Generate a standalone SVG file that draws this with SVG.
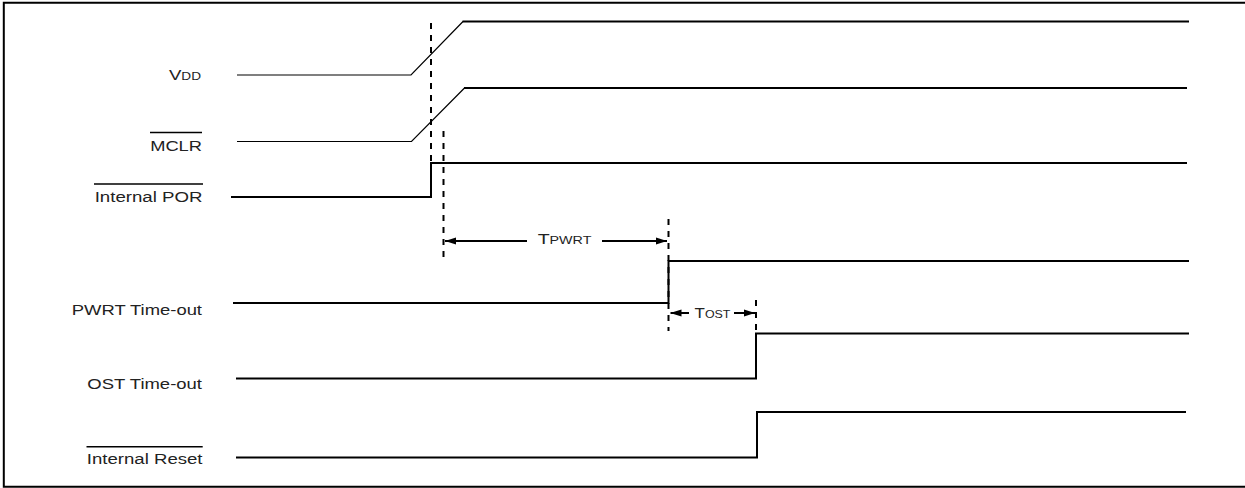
<svg xmlns="http://www.w3.org/2000/svg" width="1245" height="488" viewBox="0 0 1245 488">
<style>
.lbl{font-family:"Liberation Sans",Arial,sans-serif;font-size:15px;fill:#222;}
.sm{font-size:11px;}
.sig{fill:none;stroke:#000;stroke-width:2;}
.thin{fill:none;stroke:#000;stroke-width:1.2;}
.ovl{stroke:#000;stroke-width:1.6;}
.dash{fill:none;stroke:#000;stroke-width:2;stroke-dasharray:6,6;}
.arr{fill:none;stroke:#000;stroke-width:2;marker-end:url(#ah);}
</style>
<defs>
<marker id="ah" markerUnits="userSpaceOnUse" markerWidth="11" markerHeight="8" refX="11" refY="4" orient="auto">
<path d="M0,0.5 L11,4 L0,7.5 Z" fill="#000"/>
</marker>
</defs>
<rect width="1245" height="488" fill="#fff"/>
<path d="M1247,2.8 H3.8 V486.8 H1247" fill="none" stroke="#000" stroke-width="2"/>

<g id="vdd">
<text class="lbl" text-anchor="end" transform="translate(201,79.5) scale(1.24,1)">V<tspan class="sm">DD</tspan></text>
<path class="thin" d="M237,75 H411 L463,21.5"/>
<path class="sig" d="M462.5,21.5 H1189"/>
</g>

<g id="mclr">
<text class="lbl" text-anchor="end" transform="translate(202,150.5) scale(1.22,1)">MCLR</text>
<line class="ovl" x1="150" y1="132.5" x2="202" y2="132.5"/>
<path class="thin" d="M237,141.5 H411.5 L464.5,88"/>
<path class="sig" d="M464,88 H1187"/>
</g>

<g id="internal-por">
<text class="lbl" text-anchor="end" transform="translate(202.5,201.5) scale(1.245,1)">Internal POR</text>
<line class="ovl" x1="94" y1="184" x2="203" y2="184"/>
<path class="sig" d="M231,197 H431 V163 H1187"/>
</g>

<g id="pwrt-timeout">
<text class="lbl" text-anchor="end" transform="translate(202,315) scale(1.228,1)">PWRT Time-out</text>
<path class="sig" d="M233,303 H668.5 V261 H1189"/>
</g>

<g id="ost-timeout">
<text class="lbl" text-anchor="end" transform="translate(202,389.3) scale(1.232,1)">OST Time-out</text>
<path class="sig" d="M236,378.5 H756 V333.5 H1189"/>
</g>

<g id="internal-reset">
<text class="lbl" text-anchor="end" transform="translate(202.5,464) scale(1.24,1)">Internal Reset</text>
<line class="ovl" x1="86.5" y1="446.7" x2="202.7" y2="446.7"/>
<path class="sig" d="M236,457.5 H757 V412 H1186"/>
</g>

<g id="connectors">
<line class="dash" x1="431" y1="23" x2="431" y2="163"/>
<line class="dash" x1="443.5" y1="131" x2="443.5" y2="263"/>
<line class="dash" x1="668.5" y1="219" x2="668.5" y2="331"/>
<line class="dash" x1="756" y1="300" x2="756" y2="334"/>
<line class="arr" x1="527" y1="241" x2="445" y2="241"/>
<line class="arr" x1="602" y1="241" x2="667" y2="241"/>
<line class="arr" x1="689" y1="313" x2="670.5" y2="313"/>
<line class="arr" x1="734" y1="313" x2="755" y2="313"/>
<text class="lbl" text-anchor="middle" transform="translate(564.5,244) scale(1.3,1)">T<tspan class="sm">PWRT</tspan></text>
<text class="lbl" text-anchor="middle" transform="translate(712.5,318) scale(1.13,1)">T<tspan class="sm">OST</tspan></text>
</g>
</svg>
